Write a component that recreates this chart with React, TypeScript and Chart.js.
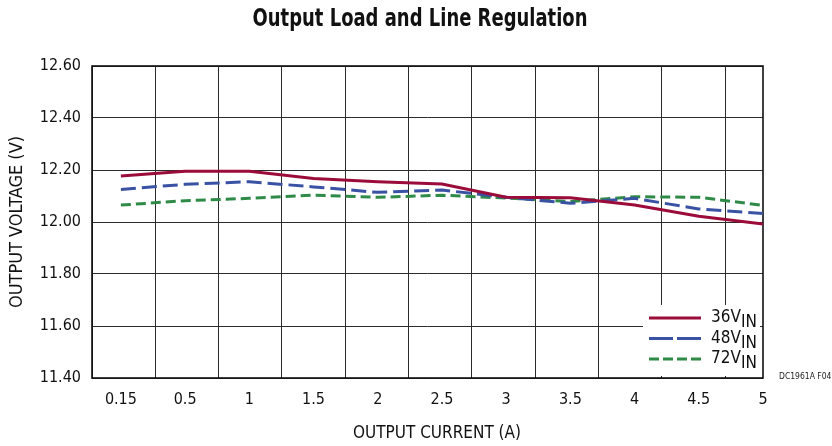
import React, { useEffect, useRef } from "react";
import { Chart, registerables } from "chart.js";

Chart.register(...registerables);

const currentLabels = ["0.15", "0.5", "1", "1.5", "2", "2.5", "3", "3.5", "4", "4.5", "5"];
const vin36 = [12.177, 12.195, 12.195, 12.167, 12.155, 12.146, 12.095, 12.093, 12.065, 12.022, 11.992];
const vin48 = [12.125, 12.145, 12.155, 12.135, 12.114, 12.123, 12.095, 12.072, 12.091, 12.05, 12.033];
const vin72 = [12.065, 12.082, 12.091, 12.103, 12.095, 12.103, 12.092, 12.079, 12.097, 12.095, 12.064];
const seriesNames = ["36V", "48V", "72V"];
const yTicks = [11.4, 11.6, 11.8, 12.0, 12.2, 12.4, 12.6];

const COND = '"Liberation Sans Narrow", "DejaVu Sans Condensed", "Roboto Condensed", "Liberation Sans", sans-serif';
const RED = "#9c0c3a";
const BLUE = "#3a52a4";
const GREEN = "#2f8a48";
const GRID = "#2b2b2b";

const toPts = (arr: number[]) => arr.map((y, i) => ({ x: i, y }));

const overlayPlugin = {
  id: "overlay",
  beforeDatasetsDraw(chart: any) {
    const { ctx, chartArea: a } = chart;
    ctx.save();
    ctx.strokeStyle = "#111";
    ctx.lineWidth = 1.6;
    ctx.strokeRect(a.left, a.top, a.right - a.left, a.bottom - a.top);
    ctx.restore();
  },
  afterDraw(chart: any) {
    const { ctx, chartArea: a } = chart;
    ctx.save();
    // title (condensed look)
    ctx.fillStyle = "#111";
    ctx.textAlign = "center";
    ctx.textBaseline = "middle";
    ctx.font = `bold 24px ${COND}`;
    const tw = ctx.measureText("Output Load and Line Regulation").width;
    const sx = Math.min(1, 335 / tw);
    ctx.save();
    ctx.translate(420, 20);
    ctx.scale(sx, 1);
    ctx.fillText("Output Load and Line Regulation", 0, 0);
    ctx.restore();
    // x axis title
    ctx.font = `17px ${COND}`;
    ctx.fillText("OUTPUT CURRENT (A)", 437, 434);
    // legend box
    const bx = a.right - 120;
    const by = a.bottom - 73;
    ctx.fillStyle = "#fff";
    ctx.fillRect(bx, by, 117, 71);
    const styles = [
      { c: RED, d: [] as number[] },
      { c: BLUE, d: [24, 4] },
      { c: GREEN, d: [10, 4] },
    ];
    styles.forEach((s, i) => {
      const y = by + 13 + i * 20.5;
      ctx.strokeStyle = s.c;
      ctx.lineWidth = 3;
      ctx.setLineDash(s.d);
      ctx.beginPath();
      ctx.moveTo(bx + 6, y);
      ctx.lineTo(bx + 58, y);
      ctx.stroke();
      ctx.setLineDash([]);
      ctx.fillStyle = "#111";
      ctx.textBaseline = "middle";
      ctx.textAlign = "left";
      ctx.font = `17px ${COND}`;
      ctx.fillText(seriesNames[i], bx + 68, y);
      const w = ctx.measureText(seriesNames[i]).width;
      ctx.fillText("IN", bx + 68 + w, y + 5);
    });
    // note
    ctx.fillStyle = "#222";
    ctx.font = `8.5px ${COND}`;
    ctx.textAlign = "left";
    ctx.textBaseline = "middle";
    ctx.fillText("DC1961A F04", 779, a.bottom - 1);
    ctx.restore();
  },
};

export default function App() {
  const ref = useRef<HTMLCanvasElement>(null);
  useEffect(() => {
    document.body.style.margin = "0";
    const chart = new Chart(ref.current as HTMLCanvasElement, {
      type: "line",
      data: {
        datasets: [
          { label: "36VIN", data: toPts(vin36), borderColor: RED, borderWidth: 3, pointRadius: 0, tension: 0, xAxisID: "x", yAxisID: "y" },
          { label: "48VIN", data: toPts(vin48), borderColor: BLUE, borderWidth: 3, borderDash: [15, 6], pointRadius: 0, tension: 0, xAxisID: "x", yAxisID: "y" },
          { label: "72VIN", data: toPts(vin72), borderColor: GREEN, borderWidth: 3, borderDash: [10, 5], pointRadius: 0, tension: 0, xAxisID: "x", yAxisID: "y" },
        ],
      },
      options: {
        responsive: false,
        animation: false,
        layout: { padding: { left: 0, right: 69, top: 66, bottom: 0 } },
        plugins: {
          legend: { display: false },
          tooltip: { enabled: false },
          title: { display: false },
        },
        scales: {
          x: {
            type: "linear",
            position: "bottom",
            min: -0.45,
            max: currentLabels.length - 1,
            grid: { display: false, drawTicks: false },
            border: { display: false },
            ticks: {
              stepSize: 1,
              includeBounds: false,
              autoSkip: false,
              maxRotation: 0,
              padding: 12,
              color: "#111",
              font: { family: COND, size: 16 },
              callback: (v: any) => (Number.isInteger(v) ? currentLabels[v] : ""),
            },
            afterFit: (s: any) => { s.height = 68; },
          },
          xg: {
            type: "linear",
            position: "bottom",
            min: 0,
            max: 10.6,
            grid: { display: true, color: GRID, lineWidth: 1, drawTicks: false },
            border: { display: false },
            ticks: { display: false, stepSize: 1, includeBounds: false },
            afterFit: (s: any) => { s.height = 0; },
          },
          y: {
            type: "linear",
            min: 11.4,
            max: 12.6,
            afterBuildTicks: (s: any) => { s.ticks = yTicks.map((v) => ({ value: v })); },
            grid: { color: GRID, lineWidth: 1, drawTicks: false },
            border: { display: false },
            ticks: {
              padding: 11,
              color: "#111",
              font: { family: COND, size: 16 },
              callback: (v: any) => Number(v).toFixed(2),
            },
            title: {
              display: true,
              text: "OUTPUT VOLTAGE (V)",
              color: "#111",
              font: { family: COND, size: 18 },
              padding: { top: 7, bottom: 0 },
            },
            afterFit: (s: any) => { s.width = 92; },
          },
        },
      },
      plugins: [overlayPlugin],
    } as any);
    return () => chart.destroy();
  }, []);
  return <canvas ref={ref} width={832} height={446} style={{ display: "block" }} />;
}
